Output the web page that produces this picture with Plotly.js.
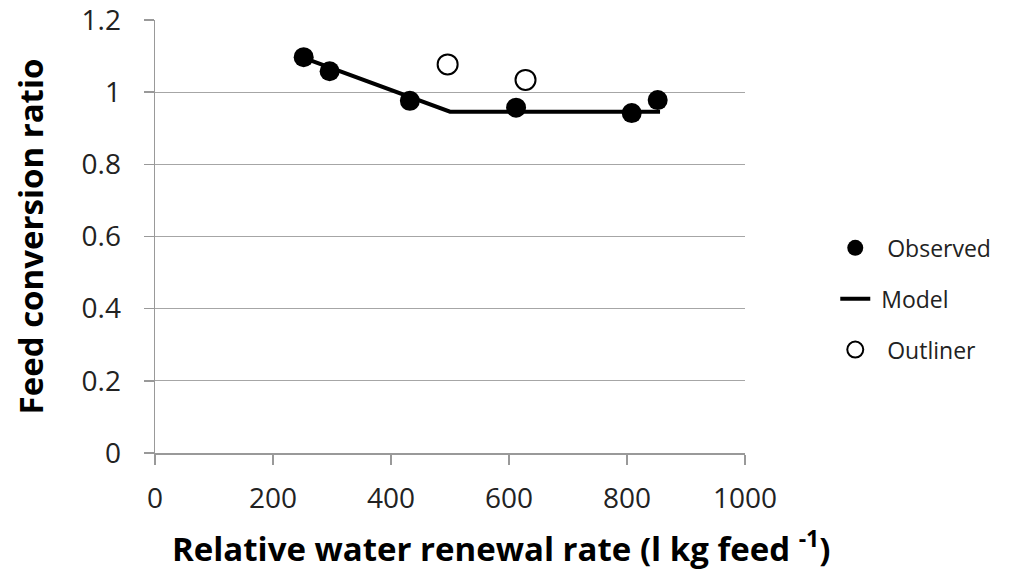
<!DOCTYPE html>
<html>
<head>
<meta charset="utf-8">
<script src="https://cdn.plot.ly/plotly-3.0.1.min.js"></script>
<style>html,body{margin:0;padding:0;background:#fff;}#chart{width:1013px;height:575px;}</style>
</head>
<body>
<div id="chart"></div>
<script>
// Observed data
var observedX = [252, 296, 432, 612, 808, 852];
var observedY = [1.097, 1.058, 0.976, 0.957, 0.942, 0.978];
// Model (piecewise linear)
var modelX = [252, 500, 856];
var modelY = [1.095, 0.946, 0.946];
// Outliers
var outlierX = [496, 628];
var outlierY = [1.077, 1.034];
// Axis ticks
var xTicks = [0, 200, 400, 600, 800, 1000];
var yTicks = [0, 0.2, 0.4, 0.6, 0.8, 1, 1.2];
var yTickLabels = ['0', '0.2', '0.4', '0.6', '0.8', '1', '1.2'];
var xTitle = 'Relative water renewal rate (l kg feed <sup>-1</sup>)';
var yTitle = 'Feed conversion ratio';

var font = 'Open Sans, Liberation Sans, sans-serif';
var nb = '\u00a0';

var traces = [
  {x: observedX, y: observedY, mode: 'markers', type: 'scatter', name: nb + nb + 'Observed',
   legendgroup: 'a',
   marker: {color: '#000', size: 20}},
  {x: modelX, y: modelY, mode: 'lines', type: 'scatter', name: nb + 'Model',
   legendgroup: 'b',
   line: {color: '#000', width: 4}},
  {x: outlierX, y: outlierY, mode: 'markers', type: 'scatter', name: nb + nb + 'Outliner',
   legendgroup: 'c',
   marker: {color: '#fff', size: 20, line: {color: '#000', width: 2}}}
];

var layout = {
  width: 1013, height: 575,
  margin: {l: 155, r: 268, t: 20, b: 122},
  paper_bgcolor: '#fff', plot_bgcolor: '#fff',
  font: {family: font, color: '#222', size: 22},
  showlegend: true,
  legend: {x: 1.153, y: 0.356, xanchor: 'left', yanchor: 'middle',
           font: {family: font, size: 23, color: '#222'},
           traceorder: 'grouped', tracegroupgap: 18,
           bgcolor: 'rgba(0,0,0,0)'},
  xaxis: {
    range: [0, 1000], tickvals: xTicks, ticktext: xTicks.map(String),
    showgrid: false, zeroline: false,
    showline: true, linecolor: '#999', linewidth: 1.5,
    ticks: 'outside', ticklen: 10, tickcolor: '#999', tickwidth: 1.5,
    ticklabelstandoff: 10,
    tickfont: {family: font, size: 28, color: '#222'}
  },
  yaxis: {
    range: [0, 1.2], tickvals: yTicks, ticktext: yTickLabels,
    showgrid: true, gridcolor: '#a6a6a6', gridwidth: 1.2,
    zeroline: false,
    showline: true, linecolor: '#999', linewidth: 1.5,
    ticks: 'outside', ticklen: 10, tickcolor: '#999', tickwidth: 1.5,
    ticklabelstandoff: 17, ticklabeloverflow: 'allow',
    tickfont: {family: font, size: 28, color: '#222'},
    title: {text: '<b>' + yTitle + '</b>',
            font: {family: font, size: 33, color: '#000'}, standoff: 28}
  },
  annotations: [{
    xref: 'paper', yref: 'paper', x: 0.586, y: -0.217,
    xanchor: 'center', yanchor: 'middle', showarrow: false,
    text: '<b>' + xTitle + '</b>',
    font: {family: font, size: 33, color: '#000'}
  }]
};

Plotly.newPlot('chart', traces, layout, {displayModeBar: false, staticPlot: true});
</script>
</body>
</html>
